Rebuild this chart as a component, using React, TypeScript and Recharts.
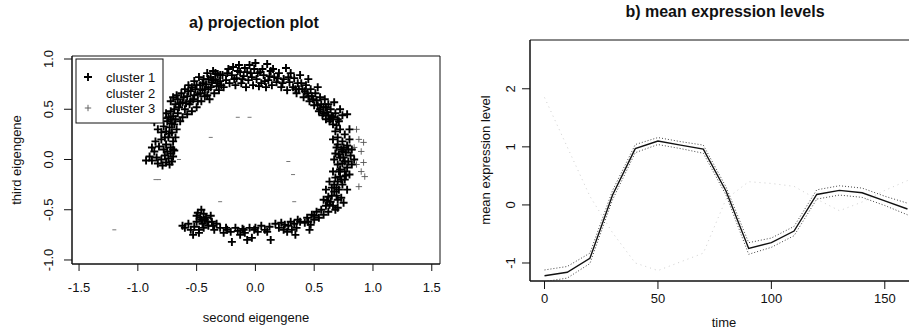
import React from 'react';
import {
  ScatterChart, Scatter, LineChart, Line, XAxis, YAxis, ReferenceArea,
} from 'recharts';

// ---------- panel a) projection plot ----------
const cluster1Pairs: [number, number][] = [
  [-0.93,-0.01],[-0.9,0.03],[-0.88,-0.01],[-0.86,0.08],[-0.84,0.02],[-0.83,-0.04],[-0.8,0.0],[-0.79,-0.06],[-0.77,0.04],[-0.76,-0.03],[-0.74,0.01],[-0.73,-0.05],[-0.72,0.06],[-0.71,-0.02],[-0.7,0.03],
  [-0.88,0.12],[-0.85,0.18],[-0.82,0.13],[-0.8,0.2],[-0.78,0.1],[-0.76,0.15],[-0.74,0.22],[-0.72,0.12],[-0.7,0.18],[-0.69,0.09],
  [-0.86,0.37],[-0.83,0.3],[-0.8,0.27],[-0.78,0.33],[-0.76,0.28],[-0.75,0.38],[-0.73,0.32],[-0.71,0.27],[-0.69,0.35],[-0.67,0.3],
  [-0.82,0.44],[-0.79,0.41],[-0.76,0.46],[-0.74,0.42],[-0.72,0.48],[-0.7,0.43],[-0.68,0.4],[-0.66,0.46],[-0.64,0.38],
  [-0.77,0.22],[-0.75,0.08],[-0.73,0.26],[-0.71,0.36],[-0.7,0.1],[-0.68,0.22],[-0.72,0.4],
  [-0.72,0.58],[-0.7,0.62],[-0.68,0.55],[-0.66,0.6],[-0.65,0.52],[-0.63,0.66],[-0.62,0.57],[-0.6,0.7],[-0.6,0.5],[-0.58,0.63],[-0.57,0.74],[-0.56,0.55],[-0.55,0.68],[-0.53,0.6],[-0.52,0.78],[-0.51,0.7],[-0.5,0.52],[-0.49,0.65],[-0.48,0.82],[-0.47,0.74],[-0.46,0.58],[-0.45,0.69],[-0.44,0.8],[-0.43,0.63],[-0.42,0.75],[-0.41,0.86],[-0.4,0.7],[-0.39,0.6],[-0.38,0.82],[-0.37,0.77],[-0.36,0.88],[-0.35,0.66],[-0.34,0.8],[-0.33,0.73],[-0.32,0.85],[-0.31,0.69],[-0.3,0.78],[-0.58,0.45],[-0.54,0.48],[-0.62,0.42],
  [-0.69,0.5],[-0.67,0.64],[-0.64,0.56],[-0.61,0.62],[-0.59,0.56],[-0.57,0.68],[-0.55,0.58],[-0.54,0.72],[-0.52,0.64],[-0.5,0.74],[-0.49,0.58],[-0.47,0.66],[-0.45,0.76],[-0.43,0.7],[-0.41,0.64],[-0.4,0.8],[-0.38,0.72],[-0.36,0.79],[-0.34,0.86],[-0.32,0.76],[-0.3,0.84],[-0.29,0.74],
  [-0.28,0.84],[-0.27,0.72],[-0.25,0.79],[-0.23,0.9],[-0.22,0.76],[-0.2,0.84],[-0.19,0.92],[-0.17,0.74],[-0.16,0.81],[-0.14,0.94],[-0.13,0.87],[-0.12,0.76],[-0.1,0.83],[-0.09,0.91],[-0.08,0.72],[-0.06,0.79],[-0.05,0.94],[-0.04,0.86],[-0.02,0.74],[-0.01,0.9],[0.0,0.96],[0.01,0.8],[0.03,0.73],[0.04,0.87],[0.05,0.76],[0.07,0.84],[0.09,0.72],[0.1,0.95],[0.11,0.79],[0.13,0.88],[0.14,0.74],[0.16,0.82],[0.18,0.77],[0.2,0.86],[0.22,0.72],[0.24,0.8],[0.26,0.91],[0.27,0.69],[0.29,0.77],[0.3,0.86],
  [-0.24,0.86],[-0.18,0.8],[-0.15,0.88],[-0.11,0.8],[-0.07,0.87],[-0.03,0.82],[0.02,0.86],[0.06,0.9],[0.08,0.78],[0.12,0.83],[0.15,0.9],[0.19,0.81],[0.23,0.76],[0.28,0.82],
  [0.32,0.72],[0.33,0.81],[0.35,0.66],[0.36,0.76],[0.38,0.84],[0.4,0.7],[0.41,0.62],[0.43,0.74],[0.44,0.66],[0.46,0.58],[0.47,0.7],[0.48,0.63],[0.5,0.54],[0.51,0.66],[0.52,0.59],[0.54,0.48],[0.55,0.62],[0.56,0.55],[0.57,0.44],[0.58,0.52],[0.59,0.6],[0.6,0.4],[0.61,0.47],[0.62,0.55],[0.63,0.38],[0.64,0.5],[0.65,0.43],[0.66,0.35],[0.67,0.57],[0.68,0.46],[0.7,0.4],[0.72,0.5],[0.74,0.44],[0.78,0.45],[0.53,0.72],[0.45,0.8],
  [0.34,0.7],[0.37,0.7],[0.39,0.76],[0.42,0.68],[0.45,0.63],[0.49,0.6],[0.53,0.54],[0.55,0.5],[0.58,0.46],[0.6,0.52],[0.62,0.44],[0.64,0.4],[0.66,0.42],[0.69,0.34],[0.71,0.38],
  [0.68,0.28],[0.7,0.22],[0.72,0.3],[0.74,0.18],[0.76,0.25],[0.78,0.14],[0.8,0.2],[0.82,0.1],[0.66,0.2],[0.69,0.12],[0.71,0.05],[0.73,0.1],[0.75,0.02],[0.77,0.07],[0.79,-0.02],[0.81,0.04],[0.67,0.0],[0.7,-0.05],[0.72,-0.1],[0.74,-0.04],[0.76,-0.12],[0.78,-0.08],[0.8,-0.15],[0.82,-0.05],[0.66,-0.12],[0.68,-0.18],[0.7,-0.22],[0.72,-0.17],[0.74,-0.25],[0.76,-0.2],[0.78,-0.3],[0.63,-0.22],[0.65,-0.28],[0.67,-0.32],[0.69,-0.36],[0.71,-0.3],[0.73,-0.38],[0.75,-0.43],[0.6,-0.3],[0.62,-0.37],[0.64,-0.42],[0.66,-0.46],[0.68,-0.5],[0.58,-0.4],[0.6,-0.46],[0.56,-0.5],[0.58,-0.55],[0.62,-0.52],[0.7,-0.48],[0.84,0.0],[0.8,0.3],
  [0.7,0.15],[0.72,0.02],[0.74,0.08],[0.76,-0.02],[0.77,-0.16],[0.73,-0.2],[0.71,-0.12],[0.69,-0.28],[0.67,-0.25],[0.65,-0.36],[0.63,-0.45],[0.61,-0.41],[0.7,-0.4],[0.68,0.06],[0.79,0.1],[0.75,0.12],
  [0.54,-0.58],[0.52,-0.52],[0.5,-0.6],[0.48,-0.55],[0.47,-0.65],[0.46,-0.7],[0.44,-0.58],[0.42,-0.63],[0.36,-0.6],[0.35,-0.68],[0.34,-0.75],[0.33,-0.64],[0.31,-0.7],[0.3,-0.62],[0.28,-0.66],[0.27,-0.72],[0.25,-0.65],[0.24,-0.7],[0.22,-0.63],[0.2,-0.68],[0.17,-0.64],
  [0.13,-0.8],[0.12,-0.67],[0.08,-0.7],[0.05,-0.66],[0.02,-0.72],[-0.01,-0.7],[-0.03,-0.78],[-0.05,-0.68],[-0.07,-0.8],[-0.09,-0.73],[-0.11,-0.69],[-0.13,-0.75],[-0.15,-0.71],[-0.17,-0.68],[-0.2,-0.82],[-0.21,-0.72],[-0.24,-0.7],[-0.27,-0.73],[-0.3,-0.68],[-0.33,-0.64],[-0.35,-0.7],[-0.37,-0.62],[-0.4,-0.66],[-0.42,-0.58],[-0.44,-0.54],[-0.45,-0.64],[-0.46,-0.5],[-0.47,-0.58],[-0.48,-0.7],[-0.49,-0.53],[-0.5,-0.62],[-0.52,-0.67],[-0.53,-0.75],[-0.55,-0.7],[-0.57,-0.64],[-0.6,-0.68],[-0.62,-0.66],[-0.48,-0.73],[-0.43,-0.6],[-0.38,-0.56],
  [-0.5,-0.56],[-0.46,-0.6],[-0.44,-0.68],[-0.41,-0.62],[-0.36,-0.66],[-0.25,-0.68],[-0.1,-0.7],[0.0,-0.68],[0.1,-0.72],[0.38,-0.62],[0.45,-0.62],[0.5,-0.56],
];
const cluster2Pairs: [number, number][] = [
  [-0.85,-0.2],[-0.82,-0.2],[-0.3,-0.42],[0.33,-0.42],[0.28,-0.02],[0.32,-0.15],[-0.15,0.42],[-0.05,0.42],[-0.38,0.22],[-1.2,-0.7],[-0.65,0.0],
];
const cluster3Pairs: [number, number][] = [
  [0.92,0.17],[0.88,0.2],[0.9,0.08],[0.92,-0.03],[0.9,-0.12],[0.93,-0.17],[0.88,-0.27],[0.86,-0.05],[0.84,0.12],[0.86,0.3],
];
const clusterNames = ['cluster 1', 'cluster 2', 'cluster 3'];
const scatterXTicks = [-1.5, -1.0, -0.5, 0.0, 0.5, 1.0, 1.5];
const scatterYTicks = [-1.0, -0.5, 0.0, 0.5, 1.0];

// ---------- panel b) mean expression levels ----------
const times = [0, 10, 20, 30, 40, 50, 60, 70, 80, 90, 100, 110, 120, 130, 140, 150, 160];
const meanLevel = [-1.22, -1.16, -0.92, 0.17, 0.97, 1.10, 1.03, 0.96, 0.24, -0.75, -0.65, -0.45, 0.18, 0.25, 0.21, 0.07, -0.07];
const upperBand = [-1.12, -1.06, -0.83, 0.25, 1.04, 1.16, 1.09, 1.03, 0.31, -0.65, -0.57, -0.37, 0.26, 0.33, 0.29, 0.15, 0.03];
const lowerBand = [-1.32, -1.26, -1.01, 0.09, 0.90, 1.04, 0.97, 0.89, 0.17, -0.85, -0.73, -0.53, 0.10, 0.17, 0.13, -0.01, -0.17];
const otherLevel = [1.85, 1.0, 0.15, -0.48, -1.0, -1.13, -0.98, -0.83, 0.1, 0.4, 0.37, 0.32, 0.1, -0.1, 0.05, 0.25, 0.42];
const lineXTicks = [0, 50, 100, 150];
const lineYTicks = [-1, 0, 1, 2];

const FONT = '"Liberation Sans", Arial, Helvetica, sans-serif';
const INK = '#111';

const toPts = (a: [number, number][]) => a.map(([x, y]) => ({ x, y }));
const c1 = toPts(cluster1Pairs);
const c2 = toPts(cluster2Pairs);
const c3 = toPts(cluster3Pairs);

const lineData = times.map((t, i) => ({
  t, mean: meanLevel[i], upper: upperBand[i], lower: lowerBand[i], other: otherLevel[i],
}));

const PlusBold = (p: any) => {
  const { cx, cy } = p;
  if (cx == null || cy == null) return <g />;
  return <path d={`M${cx - 4},${cy}h8M${cx},${cy - 4}v8`} stroke="#000" strokeWidth={1.9} fill="none" />;
};
const PlusThin = (p: any) => {
  const { cx, cy } = p;
  if (cx == null || cy == null) return <g />;
  return <path d={`M${cx - 3.2},${cy}h6.4M${cx},${cy - 3.2}v6.4`} stroke="#555" strokeWidth={0.9} fill="none" />;
};
const Dash = (p: any) => {
  const { cx, cy } = p;
  if (cx == null || cy == null) return <g />;
  return <path d={`M${cx - 2},${cy}h4`} stroke="#777" strokeWidth={1} fill="none" />;
};

const makeYTick = (offset: number, fmt: (v: number) => string) => (props: any) => {
  const { x, y, payload } = props;
  const bx = x + offset;
  return (
    <text x={bx} y={y} transform={`rotate(-90, ${bx}, ${y})`} textAnchor="middle"
      fontSize={13} fontFamily={FONT} fill={INK}>
      {fmt(payload.value)}
    </text>
  );
};

const fmt1 = (v: number) => v.toFixed(1);
const fmt0 = (v: number) => String(v);

export default function App() {
  return (
    <div style={{ position: 'absolute', left: 0, top: 0, width: 909, height: 330, overflow: 'hidden', background: '#fff' }}>
      <div style={{ position: 'absolute', left: 0, top: 0 }}>
        <ScatterChart width={460} height={330} margin={{ top: 56, right: 20, bottom: 26, left: 32 }}>
          <XAxis type="number" dataKey="x" domain={[-1.56, 1.57]} ticks={scatterXTicks} allowDataOverflow
            tickFormatter={fmt1} height={40} tickSize={7} tickMargin={12}
            stroke={INK} tick={{ fontSize: 13, fontFamily: FONT, fill: INK }} />
          <YAxis type="number" dataKey="y" domain={[-1.04, 1.03]} ticks={scatterYTicks} allowDataOverflow
            width={40} tickSize={8} tickMargin={0} stroke={INK} tick={makeYTick(-11, fmt1)} />
          <ReferenceArea x1={-1.56} x2={1.57} y1={-1.04} y2={1.03} fill="none" stroke={INK} strokeWidth={1} />
          <Scatter name={clusterNames[1]} data={c2} shape={Dash} isAnimationActive={false} />
          <Scatter name={clusterNames[2]} data={c3} shape={PlusThin} isAnimationActive={false} />
          <Scatter name={clusterNames[0]} data={c1} shape={PlusBold} isAnimationActive={false} />
        </ScatterChart>
      </div>
      <div style={{ position: 'absolute', left: 460, top: 0 }}>
        <LineChart width={470} height={330} data={lineData} margin={{ top: 40, right: 8, bottom: 19, left: 30 }}>
          <XAxis type="number" dataKey="t" domain={[-6.4, 166.4]} ticks={lineXTicks} allowDataOverflow
            height={30} tickSize={8} tickMargin={5} stroke={INK}
            tick={{ fontSize: 13, fontFamily: FONT, fill: INK }} />
          <YAxis type="number" domain={[-1.31, 2.84]} ticks={lineYTicks} allowDataOverflow
            width={40} tickSize={8} tickMargin={0} stroke={INK} tick={makeYTick(-7, fmt0)} />
          <ReferenceArea x1={-6.4} x2={166.4} y1={-1.31} y2={2.84} fill="none" stroke={INK} strokeWidth={1} />
          <Line dataKey="other" stroke="#cfcfcf" strokeWidth={1} strokeDasharray="1 4" dot={false} isAnimationActive={false} />
          <Line dataKey="upper" stroke="#444" strokeWidth={1} strokeDasharray="1 2" dot={false} isAnimationActive={false} />
          <Line dataKey="lower" stroke="#444" strokeWidth={1} strokeDasharray="1 2" dot={false} isAnimationActive={false} />
          <Line dataKey="mean" stroke="#111" strokeWidth={1.4} dot={false} isAnimationActive={false} />
        </LineChart>
      </div>
      <svg width={909} height={330} style={{ position: 'absolute', left: 0, top: 0, pointerEvents: 'none' }}
        fontFamily={FONT} fill={INK}>
        <text x={254} y={28} textAnchor="middle" fontSize={16} fontWeight="bold">a) projection plot</text>
        <text x={725} y={17} textAnchor="middle" fontSize={16} fontWeight="bold">b) mean expression levels</text>
        <text x={256} y={322} textAnchor="middle" fontSize={13}>second eigengene</text>
        <text x={724} y={327} textAnchor="middle" fontSize={13}>time</text>
        <text x={21} y={160} textAnchor="middle" fontSize={13} transform="rotate(-90, 21, 160)">third eigengene</text>
        <text x={490} y={160} textAnchor="middle" fontSize={13} transform="rotate(-90, 490, 160)">mean expression level</text>
        <rect x={76} y={59} width={87} height={64} fill="#fff" stroke={INK} strokeWidth={1} />
        <path d="M84,77h8M88,73v8" stroke="#000" strokeWidth={1.9} />
        <path d="M84.8,108h6.4M88,104.8v6.4" stroke="#555" strokeWidth={0.9} />
        <text x={106} y={82} fontSize={13}>{clusterNames[0]}</text>
        <text x={106} y={97.5} fontSize={13}>{clusterNames[1]}</text>
        <text x={106} y={113} fontSize={13}>{clusterNames[2]}</text>
      </svg>
    </div>
  );
}
